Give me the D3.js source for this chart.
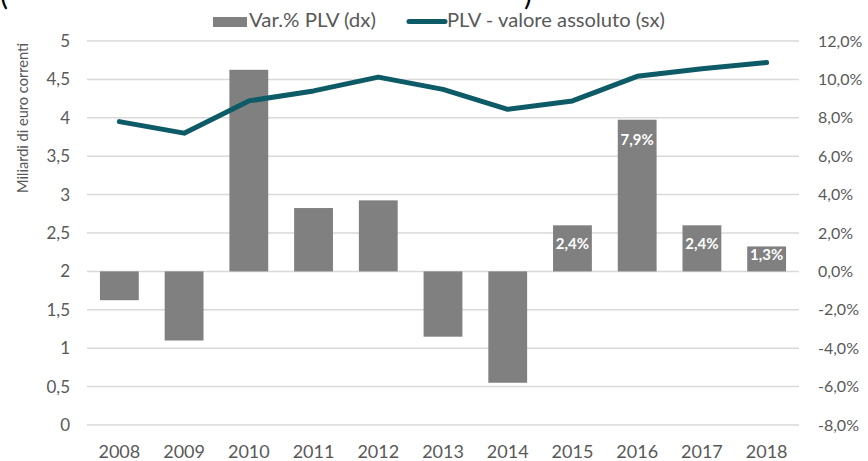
<!DOCTYPE html>
<html>
<head>
<meta charset="utf-8">
<script src="https://cdn.jsdelivr.net/npm/d3@7"></script>
<style>
  body { margin: 0; background: #fff; }
  svg { display: block; font-family: Lato, "Open Sans", sans-serif; }
</style>
</head>
<body>
<div id="chart"></div>
<script>
// Data
const years = ["2008", "2009", "2010", "2011", "2012", "2013", "2014", "2015", "2016", "2017", "2018"];
const varPlv = [-1.5, -3.6, 10.5, 3.3, 3.7, -3.4, -5.8, 2.4, 7.9, 2.4, 1.3];        // % (right axis)
const plvAbs = [3.95, 3.80, 4.22, 4.35, 4.53, 4.37, 4.11, 4.22, 4.54, 4.64, 4.72]; // mld euro (left axis)
const labelled = ["2015", "2016", "2017", "2018"];
const leftTicks = [0, 0.5, 1, 1.5, 2, 2.5, 3, 3.5, 4, 4.5, 5];
const rightTicks = [-8, -6, -4, -2, 0, 2, 4, 6, 8, 10, 12];

const width = 868;
const height = 461;
const margin = {top: 41, right: 69, bottom: 36, left: 87};

const barColor = "#808080";
const lineColor = "#0d5b67";
const textColor = "#595959";

const svg = d3.select("#chart")
    .append("svg")
    .attr("width", width)
    .attr("height", height);

const x = d3.scaleBand()
    .domain(years)
    .range([margin.left, width - margin.right])
    .paddingInner(0.4)
    .paddingOuter(0.2);

const yLeft = d3.scaleLinear()
    .domain([0, 5])
    .range([height - margin.bottom, margin.top]);

const yRight = d3.scaleLinear()
    .domain([-8, 12])
    .range([height - margin.bottom, margin.top]);

const pct = d => d3.format(".1f")(d).replace(".", ",").replace("−", "-") + "%";

// cut-off title remnants at the very top
svg.append("text").attr("x", 0).attr("y", 5).attr("font-size", 30).attr("fill", "#000").text("(");
svg.append("text").attr("x", 524).attr("y", 5).attr("font-size", 30).attr("fill", "#000").text(")");

// Gridlines
svg.append("g")
    .selectAll("line")
    .data(leftTicks)
    .enter().append("line")
    .attr("x1", margin.left)
    .attr("x2", width - margin.right)
    .attr("y1", d => yLeft(d))
    .attr("y2", d => yLeft(d))
    .attr("stroke", "#d9d9d9")
    .attr("stroke-width", 1.5);

// Left axis
const leftAxis = svg.append("g")
    .attr("transform", "translate(" + margin.left + ",0)")
    .call(d3.axisLeft(yLeft).tickValues(leftTicks).tickSize(0).tickPadding(17)
        .tickFormat(d => String(d).replace(".", ",")));
leftAxis.select(".domain").remove();
leftAxis.selectAll("text").attr("font-size", 17).attr("fill", textColor).attr("font-family", "Lato, sans-serif");

// Right axis
const rightAxis = svg.append("g")
    .attr("transform", "translate(" + (width - margin.right) + ",0)")
    .call(d3.axisRight(yRight).tickValues(rightTicks).tickSize(0).tickPadding(19).tickFormat(pct));
rightAxis.select(".domain").remove();
rightAxis.selectAll("text").attr("font-size", 16).attr("fill", textColor).attr("font-family", "Lato, sans-serif");

// Bottom axis
const bottomAxis = svg.append("g")
    .attr("transform", "translate(0," + (height - margin.bottom) + ")")
    .call(d3.axisBottom(x).tickSize(0).tickPadding(20));
bottomAxis.select(".domain").remove();
bottomAxis.selectAll("text").attr("font-size", 18).attr("fill", textColor).attr("font-family", "Lato, sans-serif");

// Bars
const barData = years.map((y, i) => ({year: y, value: varPlv[i]}));

svg.append("g")
    .selectAll("rect")
    .data(barData)
    .enter().append("rect")
    .attr("x", d => x(d.year))
    .attr("width", x.bandwidth())
    .attr("y", d => yRight(Math.max(0, d.value)))
    .attr("height", d => Math.abs(yRight(d.value) - yRight(0)))
    .attr("fill", barColor);

// Bar labels (inside end)
svg.append("g")
    .selectAll("text")
    .data(barData.filter(d => labelled.includes(d.year)))
    .enter().append("text")
    .attr("x", d => x(d.year) + x.bandwidth() / 2)
    .attr("y", d => {
        const h = yRight(0) - yRight(d.value);
        return yRight(d.value) + Math.min(25, h / 2 + 1);
    })
    .attr("text-anchor", "middle")
    .attr("font-size", 15)
    .attr("font-weight", "bold")
    .attr("fill", "#fff")
    .text(d => pct(d.value));

// Line
const line = d3.line()
    .x((d, i) => x(years[i]) + x.bandwidth() / 2)
    .y(d => yLeft(d));

svg.append("path")
    .datum(plvAbs)
    .attr("d", line)
    .attr("fill", "none")
    .attr("stroke", lineColor)
    .attr("stroke-width", 5)
    .attr("stroke-linecap", "round")
    .attr("stroke-linejoin", "round");

// Y axis title
svg.append("text")
    .attr("transform", "translate(28,118) rotate(-90)")
    .attr("text-anchor", "middle")
    .attr("font-size", 15)
    .attr("textLength", 150).attr("lengthAdjust", "spacingAndGlyphs")
    .attr("fill", textColor)
    .text("Miliardi di euro correnti");

// Legend
const legend = svg.append("g").attr("font-size", 19).attr("fill", textColor);
legend.append("rect")
    .attr("x", 213).attr("y", 17).attr("width", 34).attr("height", 10)
    .attr("fill", barColor);
legend.append("text")
    .attr("x", 249).attr("y", 27)
    .attr("textLength", 127).attr("lengthAdjust", "spacingAndGlyphs")
    .text("Var.% PLV (dx)");
legend.append("line")
    .attr("x1", 409).attr("x2", 445).attr("y1", 21.5).attr("y2", 21.5)
    .attr("stroke", lineColor).attr("stroke-width", 5).attr("stroke-linecap", "round");
legend.append("text")
    .attr("x", 447).attr("y", 27)
    .attr("textLength", 218).attr("lengthAdjust", "spacingAndGlyphs")
    .text("PLV - valore assoluto (sx)");
</script>
</body>
</html>
